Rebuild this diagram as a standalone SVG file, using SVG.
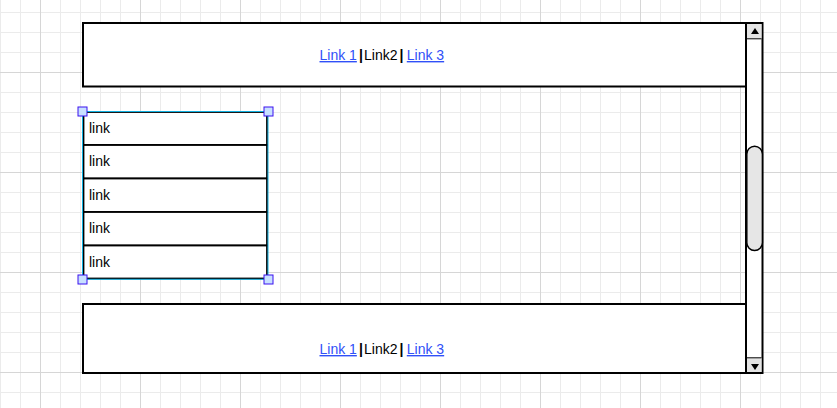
<svg xmlns="http://www.w3.org/2000/svg" width="837" height="408" viewBox="0 0 837 408">
  <style>
    .box { fill: #ffffff; stroke: #000000; stroke-width: 2; }
    .txt { font-family: "Liberation Sans", Arial, sans-serif; font-size: 14px; fill: #000000; }
    .lnk { fill: #3050f8; text-decoration: underline; }
    .sep { font-weight: bold; }
    .row { fill: #ffffff; stroke: #000000; stroke-width: 1.8; }
    .sel { fill: none; stroke: #10b0e0; stroke-width: 1; }
    .handle { fill: #c8e0ff; stroke: #3a10f0; stroke-width: 1; }
    .btn { fill: #e4e4e4; stroke: none; }
    .arrow { fill: #000000; }
  </style>
  <defs>
    <pattern id="gridMinor" patternUnits="userSpaceOnUse" x="0" y="12" width="20" height="20">
      <path d="M0.5 0V20M0 0.5H20" stroke="#ebebeb" stroke-width="1" fill="none"/>
    </pattern>
    <pattern id="gridMajor" patternUnits="userSpaceOnUse" x="40" y="72" width="100" height="100">
      <path d="M0.5 0V100M0 0.5H100" stroke="#d6d6d6" stroke-width="1" fill="none"/>
    </pattern>
  </defs>
  <rect width="837" height="408" fill="#ffffff"/>
  <rect width="837" height="408" fill="url(#gridMinor)"/>
  <rect width="837" height="408" fill="url(#gridMajor)"/>

  <g id="header">
    <rect class="box" x="83" y="23" width="663" height="63.5"/>
    <text class="txt lnk" x="319.5" y="60">Link 1</text>
    <text class="txt sep" x="359" y="60">|</text>
    <text class="txt" x="364" y="60">Link2</text>
    <text class="txt sep" x="399.6" y="60">|</text>
    <text class="txt lnk" x="406.8" y="60">Link 3</text>
  </g>

  <g id="footer">
    <rect class="box" x="83" y="304" width="663" height="69"/>
    <text class="txt lnk" x="319.5" y="354">Link 1</text>
    <text class="txt sep" x="359" y="354">|</text>
    <text class="txt" x="364" y="354">Link2</text>
    <text class="txt sep" x="399.6" y="354">|</text>
    <text class="txt lnk" x="406.8" y="354">Link 3</text>
  </g>

  <g id="scrollbar">
    <rect class="box" x="746" y="23" width="16.5" height="350"/>
    <rect class="btn" x="747" y="24" width="14.5" height="14.5"/>
    <line x1="747" y1="38.8" x2="761.5" y2="38.8" stroke="#000" stroke-width="1"/>
    <polygon class="arrow" points="755,28 751,34 759,34"/>
    <rect class="btn" x="747" y="358" width="14.5" height="14"/>
    <line x1="747" y1="357.8" x2="761.5" y2="357.8" stroke="#000" stroke-width="1"/>
    <polygon class="arrow" points="751,364 759,364 755,370"/>
    <rect x="746.8" y="146.2" width="15.6" height="104.3" rx="7.8" ry="7.8" fill="#e6e6e6" stroke="#000" stroke-width="1.5"/>
  </g>

  <g id="menu">
    <rect class="row" x="83.5" y="112" width="183.5" height="33"/>
    <rect class="row" x="83.5" y="145" width="183.5" height="33.5"/>
    <rect class="row" x="83.5" y="178.5" width="183.5" height="33.5"/>
    <rect class="row" x="83.5" y="212" width="183.5" height="33.5"/>
    <rect class="row" x="83.5" y="245.5" width="183.5" height="33"/>
    <text class="txt" x="89" y="132.5">link</text>
    <text class="txt" x="89" y="166">link</text>
    <text class="txt" x="89" y="199.5">link</text>
    <text class="txt" x="89" y="233">link</text>
    <text class="txt" x="89" y="266.5">link</text>
    <rect class="sel" x="82.5" y="111.5" width="185.5" height="167.8"/>
    <rect class="handle" x="78" y="107" width="9" height="9"/>
    <rect class="handle" x="264" y="107" width="9" height="9"/>
    <rect class="handle" x="78" y="275" width="9" height="9"/>
    <rect class="handle" x="264" y="275" width="9" height="9"/>
  </g>

  <g id="connectors"/>
</svg>
